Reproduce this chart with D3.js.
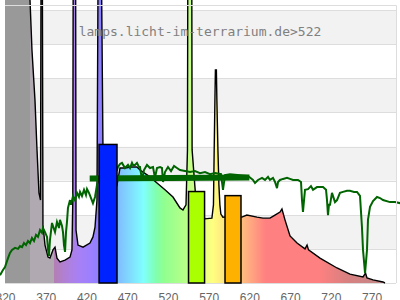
<!DOCTYPE html>
<html lang="en">
<head>
    <meta charset="UTF-8">
    <title>Lamp spectrum</title>
    <script src="https://d3js.org/d3.v7.min.js"></script>
    <style>
        body { margin: 0; background: #fff; }
        svg { display: block; }
        .tick text { font-family: "Liberation Sans", Arial, sans-serif; font-size: 12px; fill: #666; }
    </style>
</head>
<body>
    <svg id="chart" width="400" height="300"></svg>
    <script>
        // lamp spectrum [nm, relative intensity]
        const lampSpectrum = [
            [320, 95], [344.6, 88.8], [350.7, 82.9], [353.1, 68.3], [356.8, 53.6], [359.3, 39.0],
            [361.7, 26.4], [363.6, 24.3], [364.2, 88.8], [365.9, 88.8], [366.6, 17.0], [369.1, 11.1],
            [372.8, 7.6], [375.2, 7.3], [378.9, 9.7], [381.4, 10.5], [383.8, 7.3], [387.5, 6.2],
            [393.7, 6.7], [399.8, 7.6], [402.2, 9.7], [403.2, 24.3], [403.7, 88.8], [406.7, 88.8],
            [407.2, 15.5], [409.6, 11.1], [415.8, 10.5], [424.3, 11.7], [428.0, 13.5], [430.5, 16.4],
            [432.9, 24.3], [434.2, 88.8], [438.5, 88.8], [440.3, 39.0], [446.4, 30.2], [453.8, 29.6],
            [457.5, 28.7], [461.2, 33.7], [467.3, 33.7], [474.7, 34.0], [482.0, 34.0], [485.7, 33.1],
            [489.4, 32.5], [498.0, 31.1], [506.6, 29.3], [516.4, 27.3], [526.2, 25.2], [534.8, 22.0],
            [538.5, 21.4], [542.2, 22.9], [544.0, 39.0], [544.4, 88.8], [549.3, 88.8], [549.7, 39.0],
            [554.4, 24.3], [565.4, 18.8], [574.0, 19.0], [575.9, 22.9], [576.8, 39.0], [577.7, 53.6],
            [578.3, 62.4], [579.5, 62.4], [580.1, 53.6], [581.4, 39.0], [582.6, 28.7], [583.8, 22.9],
            [585.0, 20.2], [587.5, 19.3], [599.7, 19.6], [610.8, 19.3], [616.9, 19.9], [629.4, 19.3],
            [636.7, 19.0], [645.3, 19.0], [651.4, 19.9], [657.6, 20.8], [660.0, 21.7], [663.7, 18.5],
            [669.9, 13.8], [678.5, 11.7], [688.3, 10.0], [690.8, 11.1], [692.6, 9.7], [706.7, 7.3],
            [727.6, 4.4], [743.5, 2.6], [759.5, 1.8], [762.6, 2.9], [764.4, 1.5], [771.8, 0.9],
            [784.0, 0.3], [786.5, 0]
        ];

        // reference spectrum (green line)
        const refSpectrum = [
            [313.9, 2.3], [317.5, 3.8], [320.0, 4.7], [323.7, 7.3], [326.1, 8.8], [328.6, 9.7],
            [332.3, 10.3], [336.0, 10.0], [338.4, 10.8], [340.9, 10.5], [343.3, 11.7], [345.8, 11.1],
            [348.2, 12.3], [350.7, 11.7], [353.1, 13.2], [355.6, 12.3], [358.1, 14.1], [360.5, 13.5],
            [363.0, 15.5], [365.4, 14.7], [366.6, 16.1], [369.1, 14.9], [371.6, 13.5], [372.8, 9.7],
            [374.0, 7.9], [375.2, 12.6], [377.7, 17.6], [378.9, 16.7], [381.4, 14.9], [383.8, 17.9],
            [386.3, 16.1], [387.5, 18.5], [390.0, 16.7], [391.2, 14.9], [392.4, 11.1], [393.7, 9.1],
            [394.9, 14.9], [396.1, 17.9], [397.3, 22.0], [399.8, 24.3], [401.0, 22.9], [403.5, 25.5],
            [405.9, 24.3], [408.4, 26.4], [410.8, 25.2], [412.1, 26.7], [414.5, 25.5], [417.0, 27.3],
            [419.4, 25.8], [420.7, 27.5], [423.1, 26.4], [425.6, 24.9], [428.0, 23.4], [430.5, 25.2],
            [432.9, 28.7], [435.4, 30.8], [442.8, 32.5], [450.1, 33.1], [457.5, 33.1], [458.7, 34.0],
            [461.2, 34.9], [463.6, 35.2], [467.3, 33.7], [471.0, 34.6], [473.5, 33.7], [475.9, 35.2],
            [477.1, 34.6], [479.6, 34.6], [482.0, 35.2], [484.5, 34.0], [485.7, 34.0], [488.2, 30.2],
            [490.6, 33.1], [494.3, 34.6], [498.0, 33.7], [501.7, 34.0], [504.1, 30.8], [506.6, 33.7],
            [510.3, 34.0], [512.7, 33.7], [514.0, 29.6], [516.4, 32.5], [520.1, 34.0], [523.8, 32.8],
            [527.5, 34.3], [531.1, 33.7], [534.8, 33.1], [541.0, 32.8], [547.1, 32.5], [553.2, 32.8],
            [559.4, 32.2], [565.5, 32.5], [571.7, 31.9], [577.8, 32.2], [585.2, 31.9], [587.6, 27.3],
            [590.1, 31.6], [596.2, 31.9], [608.5, 31.6], [618.3, 31.4], [624.4, 30.2], [626.9, 29.3],
            [630.6, 30.2], [635.5, 30.8], [639.2, 30.2], [642.9, 31.1], [645.3, 30.2], [649.0, 30.8],
            [651.5, 29.6], [653.9, 27.8], [655.2, 29.6], [657.6, 30.2], [661.3, 30.5], [666.2, 30.8],
            [669.9, 30.5], [673.6, 30.2], [679.7, 30.2], [683.4, 29.6], [684.6, 24.3], [685.8, 20.8],
            [687.1, 24.3], [688.3, 27.3], [692.0, 27.5], [695.6, 28.4], [698.1, 27.3], [703.0, 28.1],
            [706.7, 28.1], [710.4, 28.1], [714.1, 27.3], [715.3, 24.3], [716.5, 19.9], [717.7, 22.9],
            [719.0, 22.9], [721.4, 26.4], [725.1, 23.7], [727.6, 24.3], [731.2, 26.4], [734.9, 26.7],
            [739.8, 27.0], [743.5, 27.0], [748.4, 26.7], [752.1, 26.7], [755.8, 25.5], [758.2, 16.4],
            [759.5, 9.7], [762.0, 2.9], [764.4, 9.7], [765.6, 18.5], [768.1, 22.3], [771.8, 24.0],
            [776.7, 25.2], [780.4, 24.9], [784.0, 24.3], [792.6, 23.7], [798.8, 23.7], [805.0, 23.4]
        ];

        // dense part of the reference line
        const refBand = [[424, 30.6], [620, 30.9]];

        // bars: start nm, end nm, value
        const barStart = [435.5, 545.3, 590.1];
        const barEnd = [457.5, 565.0, 609.7];
        const barValue = [40.6, 26.8, 25.6];
        const barColors = ["#0022ff", "#aaff00", "#ffb100"];

        const xTicks = [320, 370, 420, 470, 520, 570, 620, 670, 720, 770];
        const yTicks = [0, 10, 20, 30, 40, 50, 60, 70, 80];
        const title = "lamps.licht-im-terrarium.de>522";

        // spectrum colours by wavelength
        const spectrumStops = [
            [320, "#999999"], [350.5, "#999999"], [350.5, "#b1a9b1"], [380.5, "#b1a9b1"],
            [380.5, "#b47fb4"], [395, "#b080d8"], [410, "#a880f4"], [425, "#9c80ff"],
            [440, "#8880ff"], [455, "#80b4ff"], [470, "#80d4ff"], [490, "#80ffff"],
            [505, "#80ffb0"], [515, "#90ff90"], [540, "#b4ff88"], [560, "#e0ff88"],
            [575, "#ffff80"], [592, "#ffe080"], [610, "#ffc080"], [625, "#ffa080"],
            [640, "#ff8080"], [705, "#ff8080"], [740, "#d88080"], [790, "#c08888"]
        ];

        const svg = d3.select("#chart");
        const frame = { left: 5, right: 396, top: 5, bottom: 283 };

        const x = d3.scaleLinear().domain([320, 800]).range([frame.left, frame.right]);
        const y = d3.scaleLinear().domain([0, 80]).range([frame.bottom, 10]);

        // bands + grid
        const bands = svg.append("g");
        bands.selectAll("rect")
            .data(yTicks.slice(0, -1))
            .enter().append("rect")
            .attr("x", frame.left)
            .attr("width", frame.right - frame.left)
            .attr("y", d => y(d + 10))
            .attr("height", d => y(d) - y(d + 10))
            .attr("fill", (d, i) => i % 2 ? "#f2f2f2" : "#fff");
        bands.selectAll("line")
            .data(yTicks)
            .enter().append("line")
            .attr("x1", frame.left)
            .attr("x2", frame.right)
            .attr("y1", d => Math.round(y(d)) + 0.5)
            .attr("y2", d => Math.round(y(d)) + 0.5)
            .attr("stroke", "#dddddd");

        const grad = svg.append("defs").append("linearGradient")
            .attr("id", "spec")
            .attr("gradientUnits", "userSpaceOnUse")
            .attr("x1", x(320)).attr("x2", x(800))
            .attr("y1", 0).attr("y2", 0);
        grad.selectAll("stop")
            .data(spectrumStops)
            .enter().append("stop")
            .attr("offset", d => (d[0] - 320) / 480)
            .attr("stop-color", d => d[1]);

        const area = d3.area()
            .x(d => x(d[0]))
            .y0(y(0))
            .y1(d => y(d[1]));
        const line = d3.line()
            .x(d => x(d[0]))
            .y(d => y(d[1]));

        svg.append("path")
            .datum(lampSpectrum)
            .attr("d", area)
            .attr("fill", "url(#spec)");
        svg.append("path")
            .datum(lampSpectrum)
            .attr("d", line)
            .attr("fill", "none")
            .attr("stroke", "#000")
            .attr("stroke-width", 1.4);

        svg.append("path")
            .datum(refSpectrum)
            .attr("d", line)
            .attr("fill", "none")
            .attr("stroke", "#006400")
            .attr("stroke-width", 2);
        svg.append("path")
            .datum(refBand)
            .attr("d", line)
            .attr("fill", "none")
            .attr("stroke", "#006400")
            .attr("stroke-width", 6);

        svg.append("g").selectAll("rect")
            .data(barValue)
            .enter().append("rect")
            .attr("x", (d, i) => x(barStart[i]))
            .attr("width", (d, i) => x(barEnd[i]) - x(barStart[i]))
            .attr("y", d => y(d))
            .attr("height", d => y(0) - y(d))
            .attr("fill", (d, i) => barColors[i])
            .attr("stroke", "#000")
            .attr("stroke-width", 1.5);

        // frame
        svg.append("path")
            .attr("d", `M${frame.left},${frame.top + 0.5}H${frame.right + 0.5}V${frame.bottom}`)
            .attr("fill", "none")
            .attr("stroke", "#dddddd");

        svg.append("text")
            .attr("x", 200)
            .attr("y", 36)
            .attr("text-anchor", "middle")
            .style("font-family", "'DejaVu Sans Mono', monospace")
            .style("font-size", "13px")
            .style("fill", "#808080")
            .text(title);

        const xAxis = d3.axisBottom(x).tickValues(xTicks).tickSize(0).tickPadding(10).tickFormat(d3.format("d"));
        svg.append("g")
            .attr("transform", `translate(0,${frame.bottom})`)
            .call(xAxis)
            .call(g => g.select(".domain").remove());
    </script>
</body>
</html>
